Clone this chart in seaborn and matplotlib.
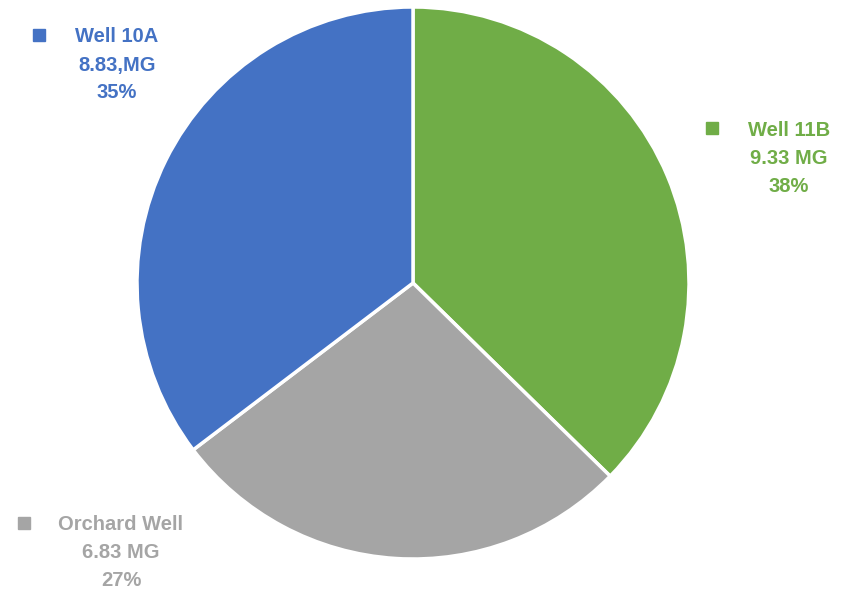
import matplotlib
matplotlib.use("Agg")
import matplotlib.pyplot as plt
import seaborn as sns
from matplotlib.patches import Rectangle

# data
wells = ['Well 11B', 'Orchard Well', 'Well 10A']
volumes = [9.33, 6.83, 8.83]
vol_labels = ['9.33 MG', '6.83 MG', '8.83,MG']
pct_labels = ['38%', '27%', '35%']
colors = ['#70AD47', '#A5A5A5', '#4472C4']

# label placement in pixels (x of text centre, y of first line, marker x)
label_pos = {
	'Well 11B': (789, 130, 712),
	'Orchard Well': (121, 525, 24),
	'Well 10A': (117, 37, 39),
}

W, H = 852, 593
sns.set_style('white')
plt.rcParams['font.family'] = ['Liberation Sans', 'DejaVu Sans']

fig = plt.figure(figsize=(W / 100, H / 100), dpi=100)
cx, cy, r = 413, 283, 276
ax = fig.add_axes([(cx - r) / W, (H - cy - r) / H, 2 * r / W, 2 * r / H])
ax.pie(volumes, colors=colors, startangle=90, counterclock=False,
	   wedgeprops={'edgecolor': 'white', 'linewidth': 2.5})
ax.set_xlim(-1, 1)
ax.set_ylim(-1, 1)
ax.set_aspect('equal')
ax.axis('off')

for name, vl, pl, col in zip(wells, vol_labels, pct_labels, colors):
	tx, ty, mx = label_pos[name]
	lines = [name, vl, pl]
	for i, line in enumerate(lines):
		fig.text(tx / W, 1 - (ty + i * 28) / H, line, ha='center', va='center',
				 fontsize=14.5, fontweight='bold', color=col)
	fig.patches.append(Rectangle(((mx - 6) / W, 1 - (ty - 2 + 6) / H), 12 / W, 12 / H,
								 transform=fig.transFigure, color=col, figure=fig))

fig.savefig('out.png', dpi=100, facecolor='white')
